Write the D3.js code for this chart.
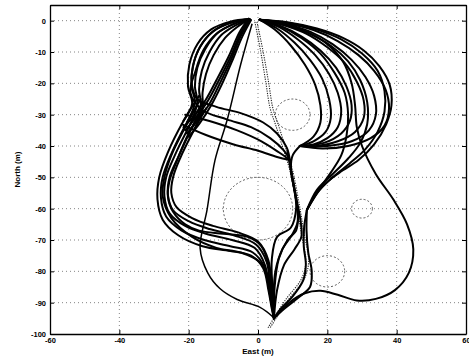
<!DOCTYPE html>
<html>
<head>
<meta charset="utf-8">
<script src="https://cdn.jsdelivr.net/npm/d3@7/dist/d3.min.js"></script>
<style>
  body { margin: 0; background: #fff; }
  svg text { font-family: "Liberation Sans", Arial, sans-serif; font-weight: bold; fill: #000; }
</style>
</head>
<body>
<svg id="chart" width="469" height="360"></svg>
<script>
// tick labels
var xTicks = [-60, -40, -20, 0, 20, 40, 60];
var yTicks = [0, -10, -20, -30, -40, -50, -60, -70, -80, -90, -100];

// obstacles: [east, north, radius]
var obstacles = [[0, -60, 10], [10, -30, 5], [30, -60, 3], [20, -80, 5]];

// trajectories, points as [east, north]
var leftLoops = [
  [[-2.5,0.5],[-8,-0.3],[-13.5,-2.8],[-17.5,-7.5],[-19.8,-14],[-20.2,-21],[-19,-26.5],[-21.5,-32]],
  [[-2.5,0.5],[-7.5,-0.5],[-12.5,-3],[-16.5,-8],[-18.8,-14.5],[-19.2,-21],[-18.2,-26],[-20.5,-32.5]],
  [[-2.5,0.5],[-7,-1],[-11.5,-3.8],[-15.2,-9],[-17.5,-15],[-18.2,-21],[-17.5,-26],[-19.5,-33]],
  [[-2.5,0.5],[-6.5,-1.5],[-10.5,-4.5],[-14,-10],[-16.2,-16],[-17,-22],[-16.5,-27],[-19,-34]],
  [[-2.5,0.5],[-6,-2],[-9.5,-5.5],[-12.8,-11],[-15,-17],[-16,-23],[-16,-28],[-18.5,-35]]
];
var diagonals = [
  [[-2.5,0.5],[-5,-4],[-8.1,-12],[-11.5,-19.5],[-14.7,-26],[-18,-31],[-21,-35]],
  [[-2.2,0.3],[-4.8,-4.5],[-7.8,-12.5],[-11,-20],[-14,-26.5],[-17.5,-32],[-20.5,-36]],
  [[-2.7,0.7],[-5.3,-3.6],[-8.5,-11.5],[-12,-19],[-15.2,-25.5],[-18.5,-30.5],[-21.5,-34]],
  [[-2.0,0.2],[-4.5,-5],[-7.5,-13],[-10.5,-20.5],[-13.5,-27],[-17,-33],[-20,-37]]
];
var crossPaths = [
  [[-2.5,0.5],[-8,-0.8],[-13,-3.5],[-16.8,-8.5],[-18.8,-15],[-19,-21],[-17.5,-25],[-12,-27.5],[-5,-29.5],[1.5,-32.5],[5.5,-36],[8.3,-40.5],[9.2,-44.5]],
  [[-2.5,0.5],[-7.2,-1.2],[-12,-4.2],[-15.8,-9.5],[-18,-16],[-19.5,-23],[-16,-28.5],[-9,-31.5],[-2,-34],[3.5,-37.5],[7.5,-41.5],[9.2,-44.5]],
  [[-21,-30],[-14,-32],[-6,-35],[1,-38.5],[6,-42],[9.2,-44.5]],
  [[-22,-33],[-15,-36.5],[-7,-39.5],[0,-41.5],[5.5,-43.5],[9.2,-44.5]]
];
var leftBand = [
  [[-17,-24],[-21.5,-32],[-26,-42],[-28.5,-50],[-29,-57],[-27.5,-63.5],[-23,-68.5],[-16,-72],[-8,-73.5],[-2,-75],[1.5,-79],[3,-86],[4,-92],[4.6,-95]],
  [[-16.5,-25],[-20.5,-32.5],[-25,-42.5],[-27.5,-50],[-28,-56.5],[-26.5,-62.5],[-22,-67],[-15.5,-70],[-8,-72],[-1.5,-74],[1.8,-78.5],[3.2,-86],[4.1,-92],[4.6,-95]],
  [[-16,-26],[-19.5,-33],[-24,-43],[-26.5,-50],[-27,-56],[-25.5,-61.5],[-21,-65.5],[-15,-68],[-7.5,-70],[-1,-72.5],[2,-78],[3.3,-86],[4.2,-92],[4.6,-95]],
  [[-15.5,-27],[-19,-34],[-23,-43.5],[-25.5,-50],[-26,-55.5],[-24.5,-60.5],[-20,-64],[-14,-66.5],[-7,-68.5],[-0.5,-71.5],[2.5,-77],[3.5,-85],[4.3,-92],[4.6,-95]],
  [[-15,-28],[-18.5,-35],[-22.5,-44],[-24.5,-50],[-25,-55],[-23.5,-59.5],[-19,-63],[-13,-65.5],[-6,-67.5],[0,-70.5],[3,-76.5],[3.8,-85],[4.4,-92],[4.6,-95]],
  [[-17.5,-27],[-21,-34],[-25,-43],[-27,-50],[-27.5,-56],[-25,-63],[-19,-69],[-12,-72.5],[-5,-74],[0.5,-77],[3,-82],[4,-88],[4.6,-95]],
  [[-16,-29],[-20,-36],[-23.5,-45],[-25.5,-51],[-26,-56],[-24.5,-61],[-21,-65],[-17,-67],[-10,-68],[-3,-69],[1,-72],[3.5,-80],[4.5,-90],[4.6,-95]]
];
var thinPath = [[-1.7,-1],[-5,-14],[-8.9,-31.7],[-12.4,-44.5],[-14.7,-60.4],[-16.7,-72.5],[-14.5,-80.5],[-11,-85.5],[-6,-89],[0.6,-91.5],[4.4,-94.6]];
var rightLoops = [
  [[0.5,0.3],[8,-0.8],[16,-3],[23,-6.5],[29,-11],[33.5,-16],[36.8,-22],[37.8,-28],[36.5,-33.5],[32.5,-37.5],[26,-40],[18.5,-40.8],[12.1,-40]],
  [[0.5,0.3],[7.5,-1],[15,-3.5],[21.5,-7.5],[27,-12.5],[31,-18],[33.5,-24],[34,-30],[32,-35],[27,-38.5],[20,-40],[12.1,-40]],
  [[0.5,0.3],[7,-1.3],[14,-4.2],[20,-8.5],[25,-13.5],[28.5,-19.5],[30.5,-25.5],[30.5,-31],[28,-35.5],[23,-38.5],[17,-40],[12.1,-40]],
  [[0.5,0.3],[6.5,-1.7],[12.5,-5],[18,-9.5],[22.5,-15],[25.5,-21],[27,-27],[26.5,-32],[24,-36],[19,-39],[12.1,-40]],
  [[0.5,0.3],[6,-2],[11.5,-6],[16.5,-11],[20.5,-17],[23,-23],[24,-29],[23,-34],[20,-37.5],[16,-39.5],[12.1,-40]],
  [[0.5,0.3],[5.5,-2.5],[10.5,-7],[15,-12.5],[18.5,-18.5],[20.5,-25],[21,-31],[19.5,-35.5],[16,-38.5],[12.1,-40]],
  [[0.5,0.3],[5,-3],[9.5,-8],[13.5,-14],[16.5,-20.5],[18,-27],[18,-32.5],[16,-37],[12.1,-40]]
];
var rightCross = [
  [[0.5,0.3],[8.5,-0.5],[17,-2.5],[24.5,-5.5],[30.5,-9.5],[35,-14.5],[38,-20.5],[38.5,-27],[37,-33],[33.5,-39.5],[29,-44.5],[23.5,-48.5],[18.5,-53],[14.1,-60.4]],
  [[0.5,0.3],[8,-0.6],[16.5,-2.7],[24,-6],[30,-10.5],[34.5,-16],[36.5,-22.5],[36.5,-29],[34.5,-35.5],[31,-41],[26.5,-45.5],[21.5,-50],[17,-55],[14.1,-60.4]],
  [[0.5,0.3],[7.5,-1.2],[14.5,-4],[21,-8],[26,-13],[29.5,-19],[31.5,-26],[31.5,-33],[29.5,-39],[26,-44],[21.5,-49],[17,-54],[14.1,-60.4]],
  [[0.5,0.3],[6.5,-1.8],[12.5,-5.5],[18,-10.5],[22,-16.5],[25,-23],[26,-30],[25.5,-37],[24,-43],[21,-48.5],[17.5,-54],[14.1,-60.4]]
];
var heartPath = [[0.5,0.3],[7,-0.8],[14,-3.5],[20,-7.5],[24.5,-13],[27,-20],[28,-27],[28.5,-34],[30,-40],[34,-49],[39,-57],[43,-65],[44.8,-73],[43.5,-80.5],[39.5,-86],[34,-88.8],[28.5,-89.3],[23,-87.5],[18,-86.2],[13.5,-87],[9,-90],[5,-94.5]];
var centerPaths = [
  [[12.1,-40],[10,-43],[9.5,-47],[10.3,-52],[11.2,-58.5],[11.5,-64],[10,-68],[7,-73],[5,-80],[4.5,-88],[4.6,-95]],
  [[9.2,-44.5],[9.8,-50],[10.8,-56],[11.5,-62],[11,-67],[8.5,-70],[6,-76],[4.8,-85],[4.6,-95]],
  [[9.2,-44.5],[10,-51],[11.3,-58],[12.3,-64],[12.5,-69],[10.5,-73],[7.5,-78],[5.5,-86],[4.6,-95]],
  [[8.5,-42],[9.5,-48],[10.5,-54],[11,-60],[9.5,-66],[5.5,-69],[4,-76],[4.2,-86],[4.6,-95]]
];
var lowerPaths = [
  [[14.1,-60.4],[13.3,-66],[13.2,-72],[13.8,-78],[13,-83],[10,-88],[6.5,-92],[4.6,-95]],
  [[14.1,-60.4],[14,-67],[14.5,-74],[15.5,-80],[15,-85],[11.5,-88.5],[7.5,-92],[4.6,-95]]
];
var dottedPaths = [
  [[-0.9,-0.4],[0.8,-10],[2.3,-20],[3.5,-28],[5,-33],[7,-40],[9,-47],[11,-58],[12.5,-68],[13.8,-77],[12.5,-82.5],[8,-89],[2.9,-98]],
  [[-0.3,-0.4],[1.5,-10],[3.1,-20],[4.3,-28],[5.8,-33],[7.8,-40],[9.8,-47],[11.8,-58],[13.3,-68],[14.6,-77],[13.3,-82.5],[8.8,-89],[3.5,-98]]
];

var margin = {left: 50, right: 3, top: 5, bottom: 26};
var width = 469 - margin.left - margin.right;
var height = 360 - margin.top - margin.bottom;

var svg = d3.select('#chart');
var g = svg.append('g').attr('transform', 'translate(' + margin.left + ',' + margin.top + ')');

var x = d3.scaleLinear().domain([-60, 60]).range([0, width]);
var y = d3.scaleLinear().domain([-100, 5]).range([height, 0]);

// grid
g.append('g').selectAll('line').data(xTicks.slice(1, -1)).enter().append('line')
  .attr('x1', d => x(d)).attr('x2', d => x(d)).attr('y1', 0).attr('y2', height)
  .attr('stroke', '#666').attr('stroke-width', 0.8).attr('stroke-dasharray', '1,3');
g.append('g').selectAll('line').data(yTicks.slice(0, -1)).enter().append('line')
  .attr('x1', 0).attr('x2', width).attr('y1', d => y(d)).attr('y2', d => y(d))
  .attr('stroke', '#666').attr('stroke-width', 0.8).attr('stroke-dasharray', '1,3');

// obstacles
g.append('g').selectAll('ellipse').data(obstacles).enter().append('ellipse')
  .attr('cx', d => x(d[0])).attr('cy', d => y(d[1]))
  .attr('rx', d => x(d[2]) - x(0)).attr('ry', d => y(0) - y(d[2]))
  .attr('fill', 'none').attr('stroke', '#333').attr('stroke-width', 0.8)
  .attr('stroke-dasharray', '2,2');

var line = d3.line().x(d => x(d[0])).y(d => y(d[1])).curve(d3.curveCatmullRom.alpha(0.5));

// dotted double line down the middle
g.append('g').selectAll('path').data(dottedPaths).enter().append('path')
  .attr('d', line).attr('fill', 'none').attr('stroke', '#222')
  .attr('stroke-width', 1.1).attr('stroke-dasharray', '1.2,1.2');

var solid = [].concat(leftLoops, diagonals, crossPaths, leftBand, rightLoops, rightCross,
  [heartPath], centerPaths, lowerPaths);
g.append('g').selectAll('path').data(solid).enter().append('path')
  .attr('d', line).attr('fill', 'none').attr('stroke', '#000')
  .attr('stroke-width', 2).attr('stroke-linejoin', 'round').attr('stroke-linecap', 'round');
g.append('path').datum(thinPath).attr('d', line).attr('fill', 'none')
  .attr('stroke', '#000').attr('stroke-width', 1.5);

// axes, ticks pointing inward
var fmt = d => String(d);
function styleAxis(sel) {
  sel.select('.domain').attr('stroke', '#000').attr('stroke-width', 1.3);
  sel.selectAll('.tick line').attr('stroke', '#000').attr('stroke-width', 1);
  sel.selectAll('.tick text').style('font-size', '7.5px');
}
g.append('g').attr('transform', 'translate(0,' + height + ')')
  .call(d3.axisBottom(x).tickValues(xTicks).tickSizeInner(-4).tickSizeOuter(0).tickPadding(4).tickFormat(fmt))
  .call(styleAxis);
g.append('g')
  .call(d3.axisTop(x).tickValues(xTicks).tickSizeInner(-4).tickSizeOuter(0).tickFormat(''))
  .call(styleAxis);
g.append('g')
  .call(d3.axisLeft(y).tickValues(yTicks).tickSizeInner(-4).tickSizeOuter(0).tickPadding(4).tickFormat(fmt))
  .call(styleAxis);
g.append('g').attr('transform', 'translate(' + width + ',0)')
  .call(d3.axisRight(y).tickValues(yTicks).tickSizeInner(-4).tickSizeOuter(0).tickFormat(''))
  .call(styleAxis);

// axis titles
svg.append('text').attr('x', margin.left + width / 2).attr('y', 354)
  .attr('text-anchor', 'middle').style('font-size', '8px').text('East (m)');
svg.append('text').attr('transform', 'translate(20,' + (margin.top + height / 2) + ') rotate(-90)')
  .attr('text-anchor', 'middle').style('font-size', '8px').text('North (m)');
</script>
</body>
</html>
